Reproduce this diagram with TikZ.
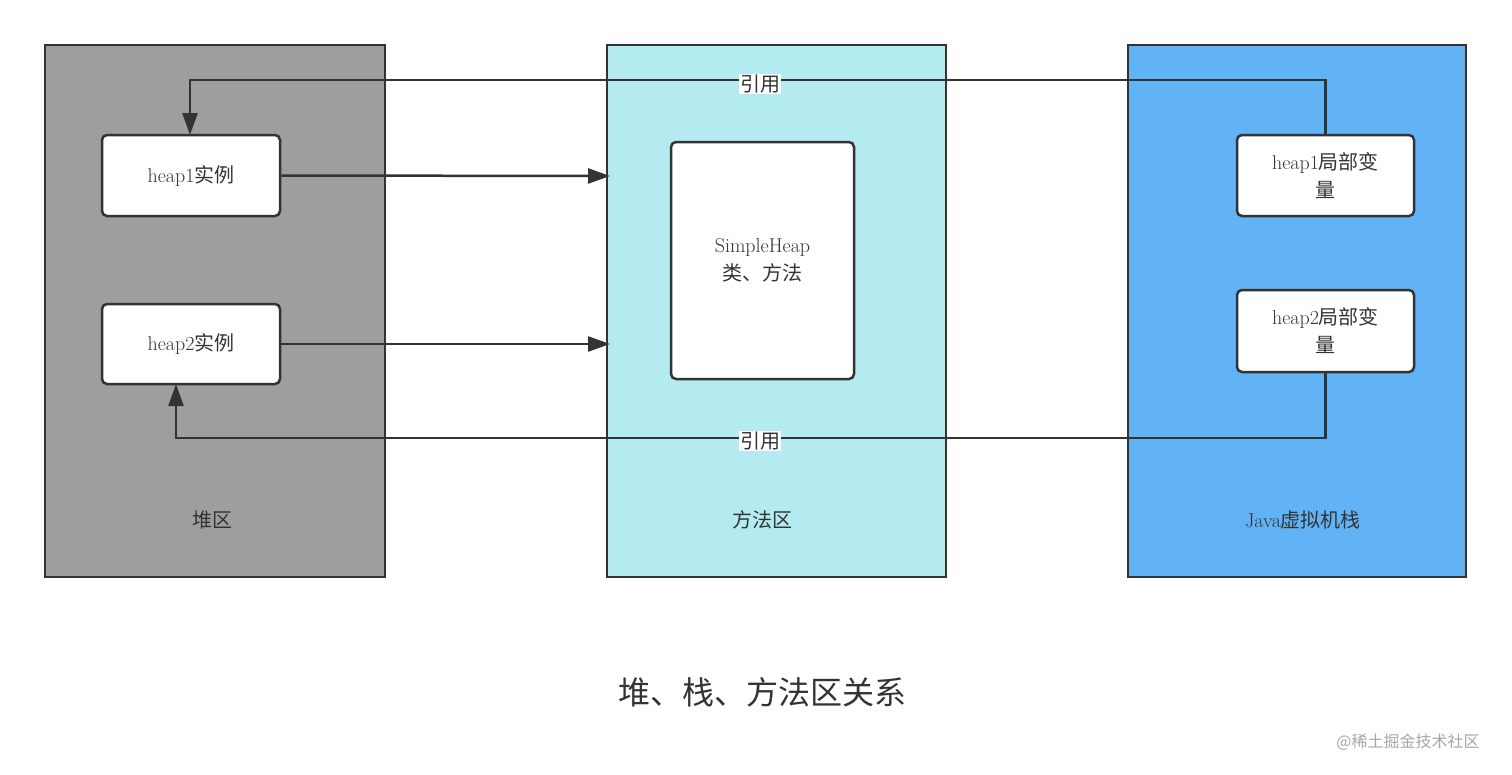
\documentclass[tikz,border=0pt]{standalone}
\usepackage{fontspec}
\newfontfamily\cjk{Noto Sans CJK SC}
\usetikzlibrary{arrows.meta}
\definecolor{ln}{HTML}{333333}
\begin{document}
\begin{tikzpicture}[x=1pt,y=-1pt,
 area/.style={draw=ln,line width=2.5pt},
 item/.style={draw=ln,line width=2.5pt,fill=white,rounded corners=5pt,align=center,font=\fontsize{20}{28}\selectfont,text=ln},
 lbl/.style={font=\fontsize{20}{24}\selectfont,text=ln},
 conn/.style={draw=ln,line width=2.5pt,-{Triangle[length=22pt,width=15pt]}}]
\useasboundingbox (0,0) rectangle (1512,774);
\draw[area,fill={rgb,255:red,158;green,158;blue,158}] (45,45) rectangle (385,577);
\draw[area,fill={rgb,255:red,179;green,235;blue,240}] (607,45) rectangle (946,577);
\draw[area,fill={rgb,255:red,97;green,179;blue,245}] (1128,45) rectangle (1466,577);
\node[item,minimum width=178pt,minimum height=81pt] (h1) at (191,175.5) {heap1{\cjk 实例}};
\node[item,minimum width=178pt,minimum height=80pt] (h2) at (191,344) {heap2{\cjk 实例}};
\node[item,minimum width=183pt,minimum height=237pt] (sh) at (762.5,260.5) {SimpleHeap\\{\cjk 类、方法}};
\node[item,minimum width=177pt,minimum height=81pt,text width=160pt] (l1) at (1325.5,175.5) {heap1{\cjk 局部变}\\{\cjk 量}};
\node[item,minimum width=177pt,minimum height=82pt,text width=160pt] (l2) at (1325.5,331) {heap2{\cjk 局部变}\\{\cjk 量}};
\coordinate (m1) at (610,176);
\coordinate (m2) at (610,344);
\draw[conn] (h1.east) -- (m1);
\draw[conn] (h2.east) -- (m2);
\draw[conn] (l1.north) |- (190,80) -- (190,135);
\draw[conn] (l2.south) |- (176,438) -- (176,384);
\node[lbl,fill=white,inner sep=1pt] (r1) at (760,84) {\cjk 引用};
\node[lbl,fill=white,inner sep=1pt] (r2) at (760,441) {\cjk 引用};
\node[lbl] (t1) at (212,520) {\cjk 堆区};
\node[lbl] (t2) at (762,520) {\cjk 方法区};
\node[lbl] (t3) at (1303,520) {Java{\cjk 虚拟机栈}};
\node[font=\fontsize{32}{36}\selectfont,text=ln] (title) at (762,692) {\cjk 堆、栈、方法区关系};
\node[font=\fontsize{16}{18}\selectfont,text=gray!70] (wm) at (1408,742) {\cjk @稀土掘金技术社区};
\end{tikzpicture}
\end{document}
